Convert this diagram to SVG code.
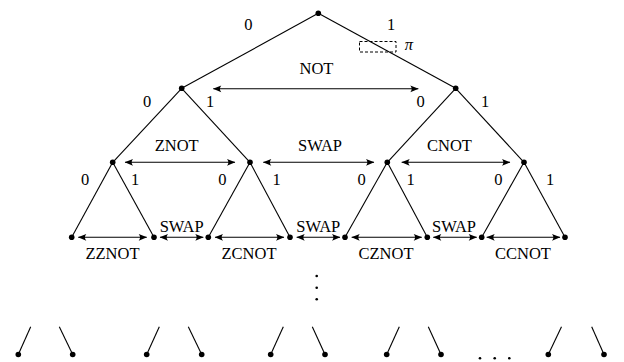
<svg xmlns="http://www.w3.org/2000/svg" width="624" height="362" viewBox="0 0 624 362">
<style>
.e{stroke:#000;stroke-width:1.1;fill:none}
.a{stroke:#000;stroke-width:1.1;fill:none;marker-start:url(#ah);marker-end:url(#ah)}
.t{font-family:"Liberation Serif","Times New Roman",serif;font-size:16.5px;fill:#000;text-anchor:middle}
.d{fill:#000}
</style>
<defs>
<marker id="ah" viewBox="-9 -4 10 8" refX="0" refY="0" markerWidth="10" markerHeight="8" markerUnits="userSpaceOnUse" orient="auto-start-reverse">
<path d="M0.3,0 L-8,-3.4 Q-5.2,0 -8,3.4 Z" fill="#000"/>
</marker>
</defs>
<rect width="624" height="362" fill="#fff"/>
<g id="connectors">
<line class="e" x1="318.3" y1="13.3" x2="181.7" y2="88.3"/>
<line class="e" x1="318.3" y1="13.3" x2="455.7" y2="88.3"/>
<line class="e" x1="181.7" y1="88.3" x2="112.7" y2="162.3"/>
<line class="e" x1="181.7" y1="88.3" x2="250" y2="162.3"/>
<line class="e" x1="455.7" y1="88.3" x2="387.3" y2="162.3"/>
<line class="e" x1="455.7" y1="88.3" x2="524" y2="162.3"/>
<line class="e" x1="112.7" y1="162.3" x2="71.7" y2="237.3"/>
<line class="e" x1="112.7" y1="162.3" x2="154" y2="237.3"/>
<line class="e" x1="250" y1="162.3" x2="208.3" y2="237.3"/>
<line class="e" x1="250" y1="162.3" x2="290" y2="237.3"/>
<line class="e" x1="387.3" y1="162.3" x2="345" y2="237.3"/>
<line class="e" x1="387.3" y1="162.3" x2="427.3" y2="237.3"/>
<line class="e" x1="524" y1="162.3" x2="481.7" y2="237.3"/>
<line class="e" x1="524" y1="162.3" x2="565" y2="237.3"/>
<line class="e" x1="30.7" y1="326.7" x2="18.3" y2="354.5"/>
<line class="e" x1="59.3" y1="326.7" x2="72.7" y2="354.5"/>
<line class="e" x1="159.3" y1="326.7" x2="146.7" y2="354.5"/>
<line class="e" x1="188.3" y1="326.7" x2="201.7" y2="354.5"/>
<line class="e" x1="283.3" y1="326.7" x2="270.7" y2="354.5"/>
<line class="e" x1="312.3" y1="326.7" x2="325" y2="354.5"/>
<line class="e" x1="399.3" y1="326.7" x2="386.7" y2="354.5"/>
<line class="e" x1="428.3" y1="326.7" x2="441" y2="354.5"/>
<line class="e" x1="561.5" y1="326.7" x2="548.3" y2="354.5"/>
<line class="e" x1="591.7" y1="326.7" x2="604" y2="354.5"/>
<line class="a" x1="213.3" y1="88.8" x2="418.3" y2="88.8"/>
<line class="a" x1="125" y1="162.3" x2="235" y2="162.3"/>
<line class="a" x1="263.3" y1="162.3" x2="374" y2="162.3"/>
<line class="a" x1="401.7" y1="162.3" x2="510" y2="162.3"/>
<line class="a" x1="78.3" y1="237.3" x2="146.7" y2="237.3"/>
<line class="a" x1="160" y1="237.3" x2="203.3" y2="237.3"/>
<line class="a" x1="215" y1="237.3" x2="284" y2="237.3"/>
<line class="a" x1="296.7" y1="237.3" x2="340" y2="237.3"/>
<line class="a" x1="351.7" y1="237.3" x2="421.7" y2="237.3"/>
<line class="a" x1="433.3" y1="237.3" x2="476.7" y2="237.3"/>
<line class="a" x1="486.7" y1="237.3" x2="560" y2="237.3"/>
</g>
<g id="root"><circle class="d" cx="318.3" cy="13.3" r="2.8"/></g>
<g id="n0"><circle class="d" cx="181.7" cy="88.3" r="2.8"/></g>
<g id="n1"><circle class="d" cx="455.7" cy="88.3" r="2.8"/></g>
<g id="n00"><circle class="d" cx="112.7" cy="162.3" r="2.8"/></g>
<g id="n01"><circle class="d" cx="250" cy="162.3" r="2.8"/></g>
<g id="n10"><circle class="d" cx="387.3" cy="162.3" r="2.8"/></g>
<g id="n11"><circle class="d" cx="524" cy="162.3" r="2.8"/></g>
<g id="n000"><circle class="d" cx="71.7" cy="237.3" r="2.8"/></g>
<g id="n001"><circle class="d" cx="154" cy="237.3" r="2.8"/></g>
<g id="n010"><circle class="d" cx="208.3" cy="237.3" r="2.8"/></g>
<g id="n011"><circle class="d" cx="290" cy="237.3" r="2.8"/></g>
<g id="n100"><circle class="d" cx="345" cy="237.3" r="2.8"/></g>
<g id="n101"><circle class="d" cx="427.3" cy="237.3" r="2.8"/></g>
<g id="n110"><circle class="d" cx="481.7" cy="237.3" r="2.8"/></g>
<g id="n111"><circle class="d" cx="565" cy="237.3" r="2.8"/></g>
<g id="leaves">
<circle class="d" cx="18.3" cy="354.5" r="2.8"/>
<circle class="d" cx="72.7" cy="354.5" r="2.8"/>
<circle class="d" cx="146.7" cy="354.5" r="2.8"/>
<circle class="d" cx="201.7" cy="354.5" r="2.8"/>
<circle class="d" cx="270.7" cy="354.5" r="2.8"/>
<circle class="d" cx="325" cy="354.5" r="2.8"/>
<circle class="d" cx="386.7" cy="354.5" r="2.8"/>
<circle class="d" cx="441" cy="354.5" r="2.8"/>
<circle class="d" cx="548.3" cy="354.5" r="2.8"/>
<circle class="d" cx="604" cy="354.5" r="2.8"/>
</g>
<g id="ellipses">
<circle class="d" cx="316.7" cy="276" r="1.3"/>
<circle class="d" cx="316.7" cy="287.7" r="1.3"/>
<circle class="d" cx="316.7" cy="299.3" r="1.3"/>
<circle class="d" cx="480" cy="358.3" r="1.3"/>
<circle class="d" cx="494.7" cy="358.3" r="1.3"/>
<circle class="d" cx="509.3" cy="358.3" r="1.3"/>
</g>
<g id="phase">
<rect x="359.5" y="41.5" width="36.5" height="10.5" fill="none" stroke="#000" stroke-width="1" stroke-dasharray="3,2"/>
<text class="t" x="409" y="50" font-style="italic">π</text>
</g>
<g id="labels">
<text class="t" x="248.3" y="30">0</text>
<text class="t" x="391" y="30">1</text>
<text class="t" x="316.5" y="74">NOT</text>
<text class="t" x="147" y="107.3">0</text>
<text class="t" x="210" y="107.3">1</text>
<text class="t" x="420.7" y="107.3">0</text>
<text class="t" x="485" y="107.3">1</text>
<text class="t" x="176.7" y="150.7">ZNOT</text>
<text class="t" x="320" y="150.7">SWAP</text>
<text class="t" x="449.5" y="150.7">CNOT</text>
<text class="t" x="85" y="185">0</text>
<text class="t" x="135" y="185">1</text>
<text class="t" x="222.3" y="185">0</text>
<text class="t" x="276.7" y="185">1</text>
<text class="t" x="361.7" y="185">0</text>
<text class="t" x="410.7" y="185">1</text>
<text class="t" x="498.3" y="185">0</text>
<text class="t" x="550" y="185">1</text>
<text class="t" x="181.7" y="231.7">SWAP</text>
<text class="t" x="318.3" y="231.7">SWAP</text>
<text class="t" x="454" y="231.7">SWAP</text>
<text class="t" x="112.5" y="258.6">ZZNOT</text>
<text class="t" x="249" y="258.6">ZCNOT</text>
<text class="t" x="386" y="258.6">CZNOT</text>
<text class="t" x="523" y="258.6">CCNOT</text>
</g>
</svg>
